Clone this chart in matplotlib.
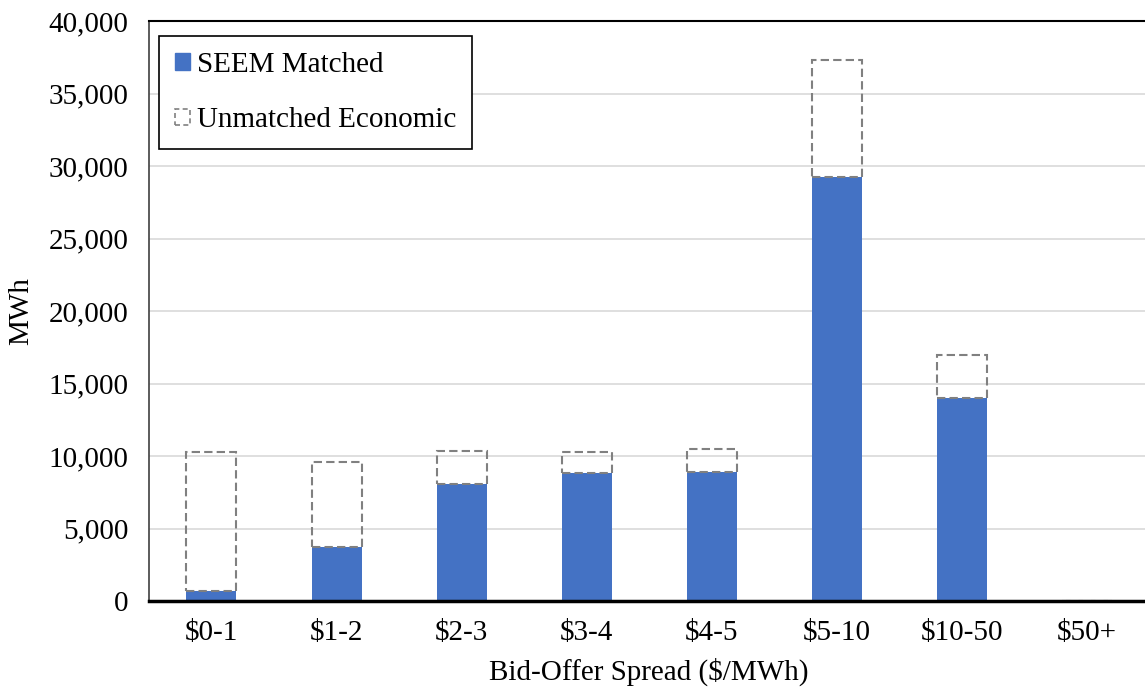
import matplotlib.pyplot as plt
from matplotlib.patches import Patch
from matplotlib.ticker import FuncFormatter

# Matched vs. unmatched economic volume by bid-offer spread bucket
spreads = ['$0-1', '$1-2', '$2-3', '$3-4', '$4-5', '$5-10', '$10-50', '$50+']
matched = [700, 3750, 8100, 8800, 8900, 29250, 14000, 0]
unmatched = [9550, 5850, 2250, 1500, 1550, 8050, 3000, 0]

plt.rcParams['font.family'] = ['Liberation Serif', 'DejaVu Serif']
fs = 21

fig = plt.figure(figsize=(11.45, 6.89), dpi=100)
ax = fig.add_axes([149 / 1145, 1 - 601 / 689, 1000 / 1145, 580 / 689])

x = range(len(spreads))
blue = '#4472C4'
grey = '#808080'

ax.bar(x, matched, width=0.4, color=blue, zorder=2)
ax.bar(x, unmatched, bottom=matched, width=0.4, facecolor='none',
       edgecolor=grey, linestyle=(0, (4, 2)), linewidth=1.5, zorder=3)

ax.set_xlim(-0.5, 7.5)
ax.set_ylim(0, 40000)
ax.set_yticks(range(0, 40001, 5000))
ax.yaxis.set_major_formatter(FuncFormatter(lambda v, p: f'{int(v):,}'))
ax.set_xticks(list(x))
ax.set_xticklabels(spreads)

ax.grid(axis='y', color='#d9d9d9', linewidth=1.2, zorder=0)
ax.set_axisbelow(True)

ax.tick_params(axis='both', length=0, labelsize=fs, colors='black')
ax.tick_params(axis='y', pad=15)
ax.tick_params(axis='x', pad=14)

ax.spines['right'].set_visible(False)
ax.spines['top'].set_linewidth(1.5)
ax.spines['left'].set_linewidth(1.2)
ax.spines['left'].set_color('#404040')
ax.spines['bottom'].set_linewidth(2.5)
ax.spines['bottom'].set_zorder(5)

ax.set_ylabel('MWh', fontsize=fs, labelpad=10)
ax.set_xlabel('Bid-Offer Spread ($/MWh)', fontsize=fs, labelpad=8)

handles = [Patch(facecolor=blue, edgecolor=blue, label='SEEM Matched'),
           Patch(facecolor='white', edgecolor=grey, linestyle=(0, (3, 2)),
                 linewidth=1.2, label='Unmatched Economic')]
leg = ax.legend(handles=handles, loc='upper left', bbox_to_anchor=(0.01, 0.974),
                fontsize=fs, frameon=True, fancybox=False, framealpha=1,
                edgecolor='black', handlelength=0.5, handleheight=0.5,
                handletextpad=0.25, labelspacing=1.0, borderpad=0.55,
                borderaxespad=0)
leg.get_frame().set_linewidth(1.2)

fig.savefig('out.png', dpi=100)
